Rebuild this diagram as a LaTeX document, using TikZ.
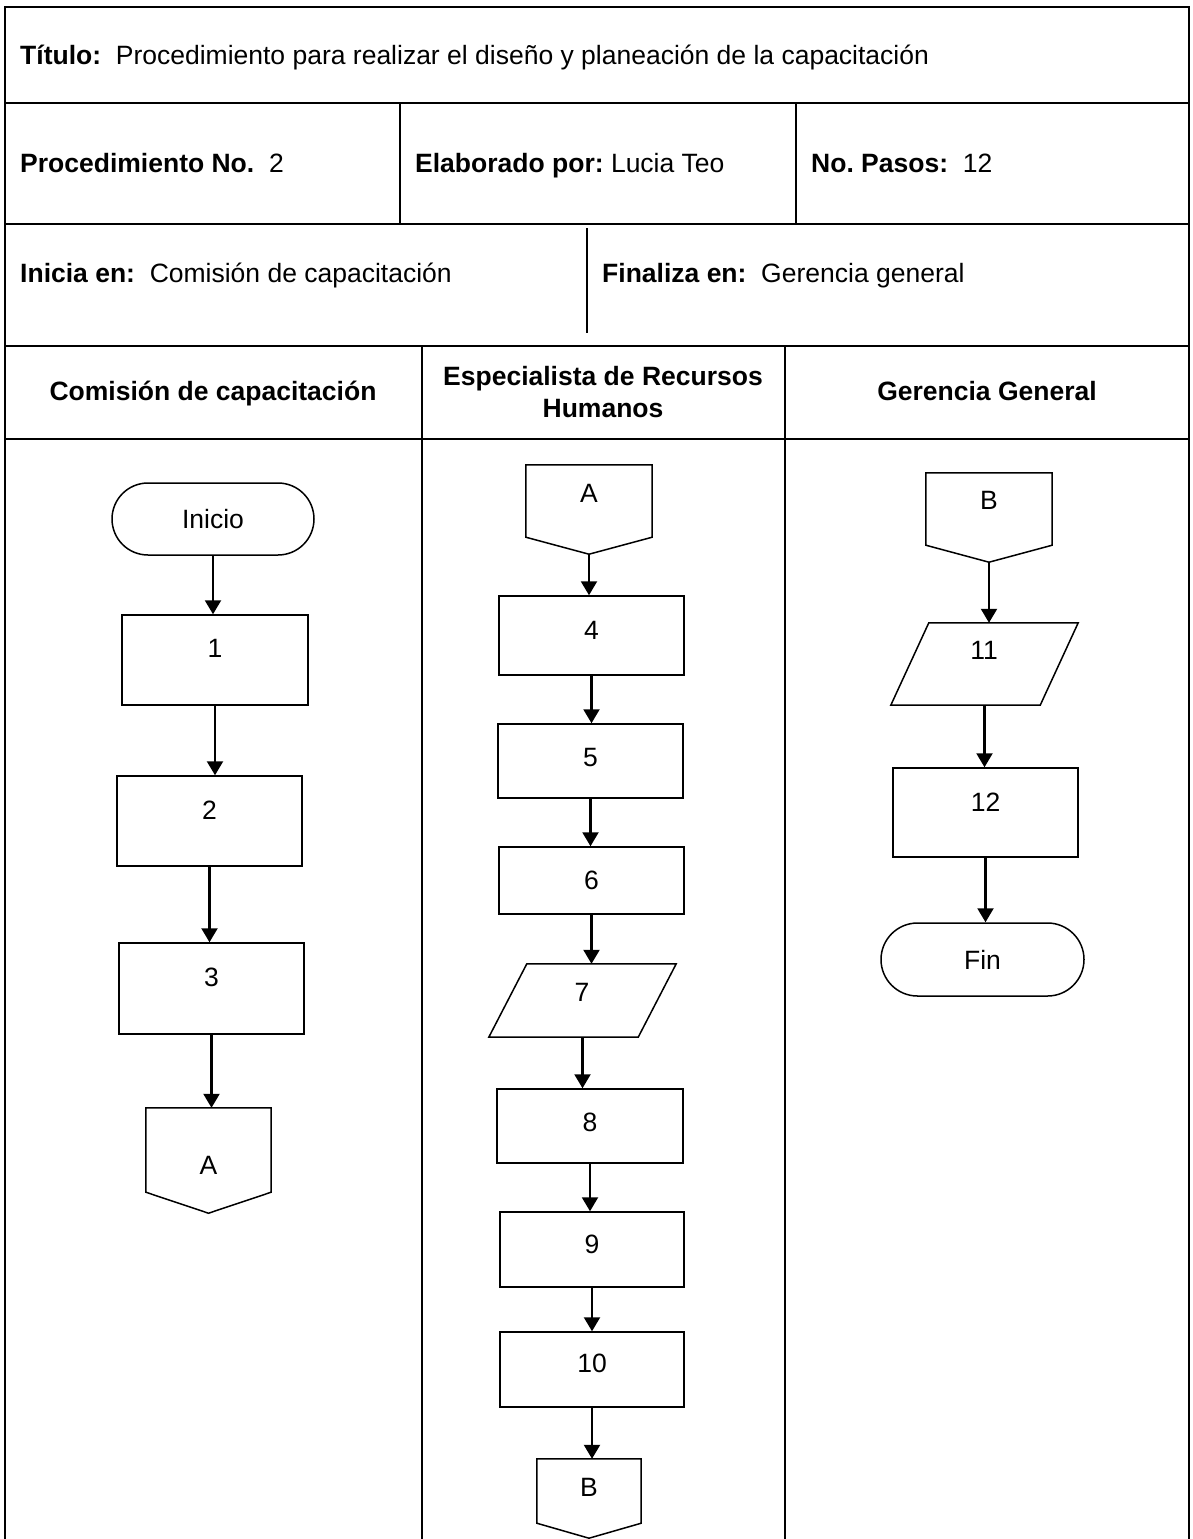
\documentclass[tikz,border=0pt]{standalone}
\usepackage{fontspec}
\setmainfont{Liberation Sans}
\usetikzlibrary{arrows.meta, shapes.misc}
\frenchspacing

\begin{document}
\begin{tikzpicture}[x=1pt, y=-1pt,
  every node/.style={font=\fontsize{26.5pt}{32pt}\selectfont, inner sep=0pt},
  grid/.style={line width=2pt},
  outline/.style={draw, line width=1.5pt},
  stepbox/.style={outline, rectangle},
  terminal/.style={outline, rounded rectangle},
  frame/.style={rectangle},
  txt/.style={anchor=center},
  flow/.style={line width=2.2pt, -{Triangle[length=14pt, width=16pt]}}
]
\useasboundingbox (0,0) rectangle (1192,1539);

% ---------- table ----------
\draw[grid] (4.6,1539) -- (4.6,7) -- (1189,7) -- (1189,1539);
\draw[grid] (4.6,103) -- (1189,103);
\draw[grid] (4.6,224) -- (1189,224);
\draw[grid] (4.6,346) -- (1189,346);
\draw[grid] (4.6,439) -- (1189,439);
\draw[grid] (400,103) -- (400,224);
\draw[grid] (796,103) -- (796,224);
\draw[line width=1.5pt] (587,228) -- (587,333);
\draw[grid] (422,346) -- (422,1539);
\draw[grid] (785,346) -- (785,1539);

% ---------- header texts ----------
\node[anchor=base west] (titulo) at (20,64)
  {\textbf{Título:}\ \ Procedimiento para realizar el diseño y planeación de la capacitación};
\node[anchor=base west] (procno) at (20,172) {\textbf{Procedimiento No.}\ \ 2};
\node[anchor=base west] (autor) at (415,172) {\textbf{Elaborado por:} Lucia Teo};
\node[anchor=base west] (pasos) at (811,172) {\textbf{No. Pasos:}\ \ 12};
\node[anchor=base west] (inicia) at (20,282) {\textbf{Inicia en:}\ \ Comisión de capacitación};
\node[anchor=base west] (finaliza) at (602,282) {\textbf{Finaliza en:}\ \ Gerencia general};

\node[anchor=base] (lane1) at (213,400) {\textbf{Comisión de capacitación}};
\node[anchor=base] (lane2a) at (603,385) {\textbf{Especialista de Recursos}};
\node[anchor=base] (lane2b) at (603,417) {\textbf{Humanos}};
\node[anchor=base] (lane3) at (987,400) {\textbf{Gerencia General}};

% ---------- lane 1: Comisión de capacitación ----------
\node[terminal, minimum width=202pt, minimum height=72pt] (inicio) at (213,519) {Inicio};
\node[stepbox, minimum width=186pt, minimum height=90pt] (b1) at (215,660) {};
\node[txt] at (215,648) {1};
\node[stepbox, minimum width=185pt, minimum height=90pt] (b2) at (209.5,821) {};
\node[txt] at (209.5,810) {2};
\node[stepbox, minimum width=185pt, minimum height=91pt] (b3) at (211.5,988.5) {};
\node[txt] at (211.5,977) {3};
\node[frame, minimum width=125pt, minimum height=105pt] (ca1) at (208.5,1160.5) {};
\draw[outline] (ca1.north west) -- (ca1.north east) -- ([yshift=21pt]ca1.south east)
  -- (ca1.south) -- ([yshift=21pt]ca1.south west) -- cycle;
\node[txt] at (208.5,1165) {A};

% ---------- lane 2: Especialista de Recursos Humanos ----------
\node[frame, minimum width=126pt, minimum height=89pt] (ca2) at (589,509.5) {};
\draw[outline] (ca2.north west) -- (ca2.north east) -- ([yshift=17pt]ca2.south east)
  -- (ca2.south) -- ([yshift=17pt]ca2.south west) -- cycle;
\node[txt] at (589,493) {A};
\node[stepbox, minimum width=185pt, minimum height=79pt] (b4) at (591.5,635.5) {};
\node[txt] at (591.5,630) {4};
\node[stepbox, minimum width=185pt, minimum height=74pt] (b5) at (590.5,761) {};
\node[txt] at (590.5,758) {5};
\node[stepbox, minimum width=185pt, minimum height=67pt] (b6) at (591.5,880.5) {};
\node[txt] at (591.5,880) {6};
\node[frame, minimum width=187pt, minimum height=73pt] (p7) at (582.5,1000.5) {};
\draw[outline] ([xshift=38pt]p7.north west) -- (p7.north east)
  -- ([xshift=-38pt]p7.south east) -- (p7.south west) -- cycle;
\node[txt] at (582,992) {7};
\node[stepbox, minimum width=186pt, minimum height=74pt] (b8) at (590,1126) {};
\node[txt] at (590,1122) {8};
\node[stepbox, minimum width=184pt, minimum height=75pt] (b9) at (592,1249.5) {};
\node[txt] at (592,1244) {9};
\node[stepbox, minimum width=184pt, minimum height=75pt] (b10) at (592,1369.5) {};
\node[txt] at (592,1363) {10};
\node[frame, minimum width=104pt, minimum height=79pt] (cb2) at (589,1498.5) {};
\draw[outline] (cb2.north west) -- (cb2.north east) -- ([yshift=15pt]cb2.south east)
  -- (cb2.south) -- ([yshift=15pt]cb2.south west) -- cycle;
\node[txt] at (589,1487) {B};

% ---------- lane 3: Gerencia General ----------
\node[frame, minimum width=126pt, minimum height=89pt] (cb3) at (989,517.5) {};
\draw[outline] (cb3.north west) -- (cb3.north east) -- ([yshift=17pt]cb3.south east)
  -- (cb3.south) -- ([yshift=17pt]cb3.south west) -- cycle;
\node[txt] at (989,500) {B};
\node[frame, minimum width=187pt, minimum height=82pt] (p11) at (984.5,664) {};
\draw[outline] ([xshift=38pt]p11.north west) -- (p11.north east)
  -- ([xshift=-38pt]p11.south east) -- (p11.south west) -- cycle;
\node[txt] at (984,650) {11};
\node[stepbox, minimum width=185pt, minimum height=89pt] (b12) at (985.5,812.5) {};
\node[txt] at (985.5,802) {12};
\node[terminal, minimum width=203pt, minimum height=73pt] (fin) at (982.5,959.5) {Fin};

% ---------- connectors ----------
\draw[flow] (inicio.south) -- (inicio.south |- b1.north);
\draw[flow] (b1.south) -- (b1.south |- b2.north);
\draw[flow] (b2.south) -- (b2.south |- b3.north);
\draw[flow] (b3.south) -- (b3.south |- ca1.north);

\draw[flow] (ca2.south) -- (ca2.south |- b4.north);
\draw[flow] (b4.south) -- (b4.south |- b5.north);
\draw[flow] (b5.south) -- (b5.south |- b6.north);
\draw[flow] (b6.south) -- (b6.south |- p7.north);
\draw[flow] (p7.south) -- (p7.south |- b8.north);
\draw[flow] (b8.south) -- (b8.south |- b9.north);
\draw[flow] (b9.south) -- (b9.south |- b10.north);
\draw[flow] (b10.south) -- (b10.south |- cb2.north);

\draw[flow] (cb3.south) -- (cb3.south |- p11.north);
\draw[flow] (p11.south) -- (p11.south |- b12.north);
\draw[flow] (b12.south) -- (b12.south |- fin.north);
\end{tikzpicture}
\end{document}
